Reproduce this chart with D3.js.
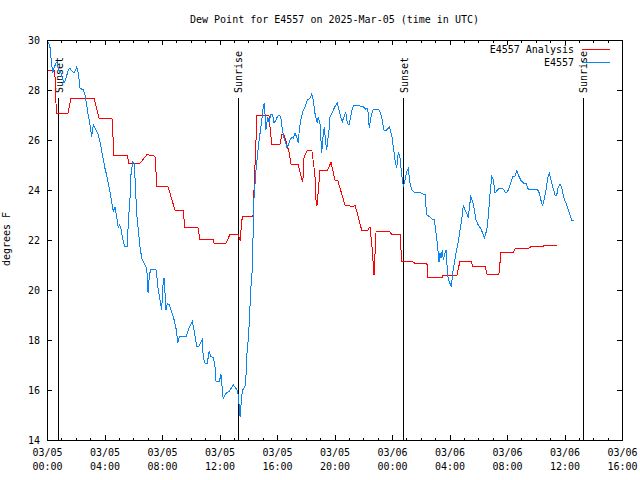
<!DOCTYPE html>
<html lang="en">
<head>
<meta charset="UTF-8">
<title>Dew Point for E4557</title>
<script src="https://d3js.org/d3.v7.min.js"></script>
<style>
  body { margin: 0; background: #fff; }
  svg text { font-family: 'DejaVu Sans Mono', 'Liberation Mono', monospace; font-size: 10px; fill: #000; }
  .crisp { shape-rendering: crispEdges; }
</style>
</head>
<body>
<svg id="chart" width="640" height="480"></svg>
<script>
  const W = 640, H = 480;
  const LEFT = 47, RIGHT = 622, TOP = 40, BOTTOM = 440;
  const RED = '#ff0000';
  const BLUE = '#0a84f0';

  // chart text
  const title = 'Dew Point for E4557 on 2025-Mar-05 (time in UTC)';
  const yLabel = 'degrees F';
  const seriesNames = ['E4557 Analysis', 'E4557'];

  // hours after 2025-03-05 00:00 UTC
  const startDate = Date.UTC(2025, 2, 5);
  const xDomainHours = [0, 40];
  const yDomain = [14, 30];
  const yTicks = [14, 16, 18, 20, 22, 24, 26, 28, 30];
  const xMajorHours = [0, 4, 8, 12, 16, 20, 24, 28, 32, 36, 40];

  const eventLabels = ['Sunset', 'Sunrise', 'Sunset', 'Sunrise'];
  const eventHours = [0.83, 13.3, 24.83, 37.3];

  // [hour, deg F]
  const analysis = [
    [0.07,28.8],[0.54,28.8],[0.6,27.9],[0.65,27.08],[1.46,27.08],[1.67,27.67],[3.27,27.67],[3.62,26.88],
    [4.52,26.88],[4.66,25.4],[5.57,25.4],[5.7,25.07],[6.47,25.07],[6.96,25.42],[7.51,25.35],[7.65,24.13],
    [8.42,24.13],[8.9,23.2],[9.46,23.2],[9.6,22.5],[10.5,22.5],[10.64,22.03],[11.55,22.03],[11.62,21.87],
    [12.45,21.87],[12.73,22.23],[13.29,22.24],[13.43,21.98],[13.59,22.96],[14.33,22.96],[14.61,27.0],
    [15.44,27.0],[15.63,25.83],[16.21,25.83],[16.35,26.23],[16.5,26.2],[16.83,25.53],[16.97,25.04],
    [17.46,25.04],[17.74,24.4],[17.8,24.35],[17.88,25.3],[18.09,25.57],[18.43,25.57],[18.64,24.6],
    [18.71,23.6],[18.78,23.36],[18.99,24.77],[19.48,24.77],[19.76,25.1],[20.03,24.4],[20.24,24.36],
    [20.73,23.4],[21.29,23.33],[21.43,23.4],[21.89,22.4],[22.33,22.4],[22.47,22.53],[22.6,21.8],
    [22.75,20.6],[22.89,22.33],[23.86,22.33],[23.95,22.24],[24.56,22.24],[24.68,21.13],[25.46,21.13],
    [25.6,21.07],[26.43,21.07],[26.5,20.5],[27.48,20.5],[27.55,20.6],[28.52,20.6],[28.73,21.16],
    [29.5,21.16],[29.61,20.96],[30.47,20.96],[30.61,20.64],[31.44,20.64],[31.58,21.5],[32.42,21.5],
    [32.56,21.65],[33.46,21.65],[33.65,21.73],[34.5,21.73],[34.57,21.79],[35.48,21.79]
  ];

  const station = [
    [0.09,29.93],[0.21,29.7],[0.33,29.0],[0.4,28.67],[0.49,28.87],[0.61,29.07],[0.72,29.13],[0.79,28.8],
    [0.95,28.73],[1.06,28.5],[1.18,28.27],[1.32,28.47],[1.48,28.8],[1.6,28.87],[1.72,28.77],[1.88,28.67],
    [2.0,28.8],[2.07,28.93],[2.18,28.67],[2.3,28.07],[2.53,28.0],[2.64,27.8],[2.76,27.4],[2.87,27.0],
    [2.99,26.6],[3.11,26.13],[3.22,26.6],[3.34,26.47],[3.46,26.33],[3.57,26.2],[3.69,25.93],[3.81,25.53],
    [3.92,25.2],[4.03,24.87],[4.15,24.6],[4.26,24.27],[4.38,23.93],[4.5,23.5],[4.61,23.13],[4.73,23.33],
    [4.85,22.93],[4.96,22.47],[5.03,22.6],[5.13,22.53],[5.2,22.27],[5.31,21.93],[5.43,21.73],[5.59,21.73],
    [5.66,22.8],[5.77,23.6],[5.84,24.6],[5.96,25.13],[6.05,25.1],[6.12,24.5],[6.24,23.07],[6.35,22.4],
    [6.47,21.73],[6.59,21.27],[6.7,21.13],[6.82,21.0],[6.94,20.87],[7.01,20.13],[7.03,19.87],[7.12,20.6],
    [7.23,20.83],[7.58,20.83],[7.67,20.4],[7.74,20.0],[7.86,19.6],[7.98,19.2],[8.05,20.13],[8.14,20.47],
    [8.21,19.87],[8.28,19.2],[8.37,19.47],[8.51,19.4],[8.67,19.13],[8.79,18.93],[8.9,18.67],[9.02,18.33],
    [9.09,17.87],[9.2,18.13],[9.37,18.13],[9.67,18.13],[9.88,18.47],[10.11,18.73],[10.23,18.4],[10.41,17.76],
    [10.57,17.76],[10.8,18.03],[10.87,17.33],[10.99,17.07],[11.15,17.07],[11.22,17.33],[11.29,17.57],
    [11.39,17.33],[11.57,17.3],[11.69,16.93],[11.76,16.33],[11.99,16.33],[12.1,16.64],[12.15,16.33],
    [12.22,15.87],[12.26,15.63],[12.38,15.8],[12.5,15.89],[12.68,15.95],[12.96,16.2],[13.2,16.03],
    [13.31,15.8],[13.43,14.93],[13.54,15.73],[13.61,16.0],[13.77,16.13],[13.84,16.53],[13.89,17.33],
    [14.0,18.0],[14.07,18.67],[14.17,20.0],[14.28,20.8],[14.31,21.6],[14.4,23.67],[14.54,24.8],[14.63,25.33],
    [14.7,25.73],[14.82,26.27],[14.94,26.8],[15.05,27.33],[15.12,27.49],[15.23,26.4],[15.35,26.93],
    [15.46,26.67],[15.56,27.03],[15.7,27.0],[15.79,26.67],[15.93,26.8],[16.02,26.93],[16.14,27.0],
    [16.26,26.93],[16.37,26.4],[16.49,26.07],[16.68,25.73],[16.79,25.8],[16.9,26.0],[17.02,26.1],
    [17.13,26.07],[17.25,26.27],[17.37,26.13],[17.48,25.87],[17.55,26.4],[17.65,26.8],[17.79,27.13],
    [17.95,27.33],[18.11,27.6],[18.3,27.67],[18.41,27.84],[18.52,27.6],[18.64,27.07],[18.8,26.67],
    [18.87,26.93],[18.99,26.67],[19.11,25.47],[19.18,26.0],[19.29,26.53],[19.39,25.87],[19.46,25.6],
    [19.53,26.0],[19.62,26.4],[19.69,26.93],[19.81,27.07],[19.92,27.2],[20.03,27.33],[20.19,27.47],
    [20.31,27.2],[20.43,26.93],[20.54,26.73],[20.66,26.93],[20.78,27.13],[20.89,26.67],[21.01,26.6],
    [21.13,26.93],[21.24,27.27],[21.36,27.4],[21.77,27.36],[22.0,27.33],[22.17,27.23],[22.31,27.27],
    [22.42,26.47],[22.54,26.93],[22.66,27.2],[22.94,27.23],[23.12,27.2],[23.28,26.93],[23.44,26.4],
    [23.63,26.4],[23.81,26.53],[23.98,26.2],[24.09,25.73],[24.21,25.2],[24.33,24.87],[24.44,25.53],
    [24.56,25.27],[24.68,24.6],[24.79,24.13],[24.9,24.4],[25.06,24.8],[25.13,24.87],[25.25,24.27],
    [25.37,24.0],[25.6,23.89],[26.0,23.89],[26.14,23.84],[26.3,23.84],[26.41,23.0],[26.64,22.93],
    [26.8,22.83],[26.94,22.83],[27.06,22.27],[27.15,21.87],[27.27,21.13],[27.34,21.47],[27.41,21.3],
    [27.5,21.6],[27.57,21.2],[27.69,21.5],[27.76,21.6],[27.85,20.8],[27.92,20.4],[28.03,20.27],
    [28.13,20.13],[28.22,20.67],[28.31,21.0],[28.45,21.47],[28.61,21.93],[28.73,22.4],[28.85,22.8],
    [28.96,23.4],[29.08,23.2],[29.2,23.07],[29.31,22.87],[29.38,23.3],[29.48,23.73],[29.62,23.53],
    [29.7,23.3],[29.84,22.8],[30.0,22.6],[30.17,22.47],[30.31,22.27],[30.42,22.07],[30.59,22.4],
    [30.7,22.93],[30.82,23.87],[30.94,24.53],[31.05,24.4],[31.17,23.87],[31.33,24.0],[31.47,24.07],
    [31.63,24.07],[31.79,24.0],[31.93,23.87],[32.09,24.0],[32.26,24.27],[32.4,24.53],[32.56,24.56],
    [32.68,24.77],[32.79,24.6],[32.95,24.4],[33.18,24.27],[33.32,24.27],[33.48,24.03],[33.83,24.03],
    [34.11,24.03],[34.25,23.87],[34.41,23.47],[34.48,23.4],[34.57,23.6],[34.71,24.0],[34.83,24.47],
    [34.94,24.67],[35.04,24.47],[35.18,24.13],[35.34,23.8],[35.46,23.8],[35.57,24.13],[35.69,24.24],
    [35.81,24.07],[35.93,23.73],[36.15,23.4],[36.26,23.2],[36.38,23.0],[36.5,22.8],[36.66,22.8]
  ];

  const toDate = h => new Date(startDate + h * 3600e3);

  const svg = d3.select('#chart');

  const x = d3.scaleUtc()
    .domain(xDomainHours.map(toDate))
    .range([LEFT, RIGHT]);
  const y = d3.scaleLinear().domain(yDomain).range([BOTTOM, TOP]);

  // title
  svg.append('text')
    .attr('x', (LEFT + RIGHT) / 2)
    .attr('y', 23)
    .attr('text-anchor', 'middle')
    .text(title);

  // y axis label
  svg.append('text')
    .attr('transform', `translate(9.5,239) rotate(-90)`)
    .attr('text-anchor', 'middle')
    .text(yLabel);

  const majorDates = xMajorHours.map(toDate);
  const minorDates = d3.range(xDomainHours[0], xDomainHours[1] + 1).map(toDate);

  // bottom axis: inward ticks, two-line labels
  const bottom = svg.append('g')
    .attr('class', 'crisp')
    .attr('transform', `translate(0,${BOTTOM})`)
    .call(d3.axisBottom(x).tickValues(minorDates).tickSize(-2.5).tickFormat(''));
  bottom.select('.domain').remove();

  const bottomMajor = svg.append('g')
    .attr('class', 'crisp')
    .attr('transform', `translate(0,${BOTTOM})`)
    .call(d3.axisBottom(x).tickValues(majorDates).tickSize(-5).tickPadding(0));
  bottomMajor.select('.domain').remove();
  const fmtDay = d3.utcFormat('%m/%d');
  const fmtTime = d3.utcFormat('%H:%M');
  bottomMajor.selectAll('.tick text').each(function(d) {
    const t = d3.select(this).text(null).attr('y', 0).attr('dy', null);
    t.append('tspan').attr('x', 0).attr('y', 16).text(fmtDay(d));
    t.append('tspan').attr('x', 0).attr('y', 30).text(fmtTime(d));
  });

  // top mirror ticks
  [[minorDates, 2.5], [majorDates, 5]].forEach(([vals, size]) => {
    const g = svg.append('g')
      .attr('class', 'crisp')
      .attr('transform', `translate(0,${TOP})`)
      .call(d3.axisTop(x).tickValues(vals).tickSize(-size).tickFormat(''));
    g.select('.domain').remove();
  });

  // left axis
  const left = svg.append('g')
    .attr('class', 'crisp')
    .attr('transform', `translate(${LEFT},0)`)
    .call(d3.axisLeft(y).tickValues(yTicks).tickSize(-5).tickPadding(7).tickFormat(d3.format('d')));
  left.select('.domain').remove();

  // right mirror ticks
  const right = svg.append('g')
    .attr('class', 'crisp')
    .attr('transform', `translate(${RIGHT},0)`)
    .call(d3.axisRight(y).tickValues(yTicks).tickSize(-5).tickFormat(''));
  right.select('.domain').remove();

  svg.selectAll('.tick line').attr('stroke', '#000');
  bottomMajor.attr('font-family', null).attr('font-size', null);
  left.attr('font-family', null).attr('font-size', null);

  // frame
  svg.append('rect')
    .attr('class', 'crisp')
    .attr('x', LEFT).attr('y', TOP)
    .attr('width', RIGHT - LEFT).attr('height', BOTTOM - TOP)
    .attr('fill', 'none').attr('stroke', '#000');

  // sunrise / sunset markers
  eventHours.forEach((h, i) => {
    const ex = x(toDate(h));
    svg.append('line')
      .attr('class', 'crisp')
      .attr('x1', ex).attr('x2', ex)
      .attr('y1', 98).attr('y2', BOTTOM)
      .attr('stroke', '#000');
    svg.append('text')
      .attr('transform', `translate(${ex + 4},93) rotate(-90)`)
      .text(eventLabels[i]);
  });

  // data lines
  const line = d3.line()
    .x(d => x(toDate(d[0])))
    .y(d => y(d[1]));

  svg.append('path')
    .datum(analysis)
    .attr('class', 'crisp')
    .attr('fill', 'none')
    .attr('stroke', RED)
    .attr('d', line);

  svg.append('path')
    .datum(station)
    .attr('class', 'crisp')
    .attr('fill', 'none')
    .attr('stroke', BLUE)
    .attr('d', line);

  // legend
  const legendColors = [RED, BLUE];
  seriesNames.forEach((name, i) => {
    const ly = 49.5 + i * 13;
    svg.append('text')
      .attr('x', 574)
      .attr('y', ly + 3.5)
      .attr('text-anchor', 'end')
      .text(name);
    svg.append('line')
      .attr('class', 'crisp')
      .attr('x1', 582).attr('x2', 610)
      .attr('y1', ly).attr('y2', ly)
      .attr('stroke', legendColors[i]);
  });
</script>
</body>
</html>
